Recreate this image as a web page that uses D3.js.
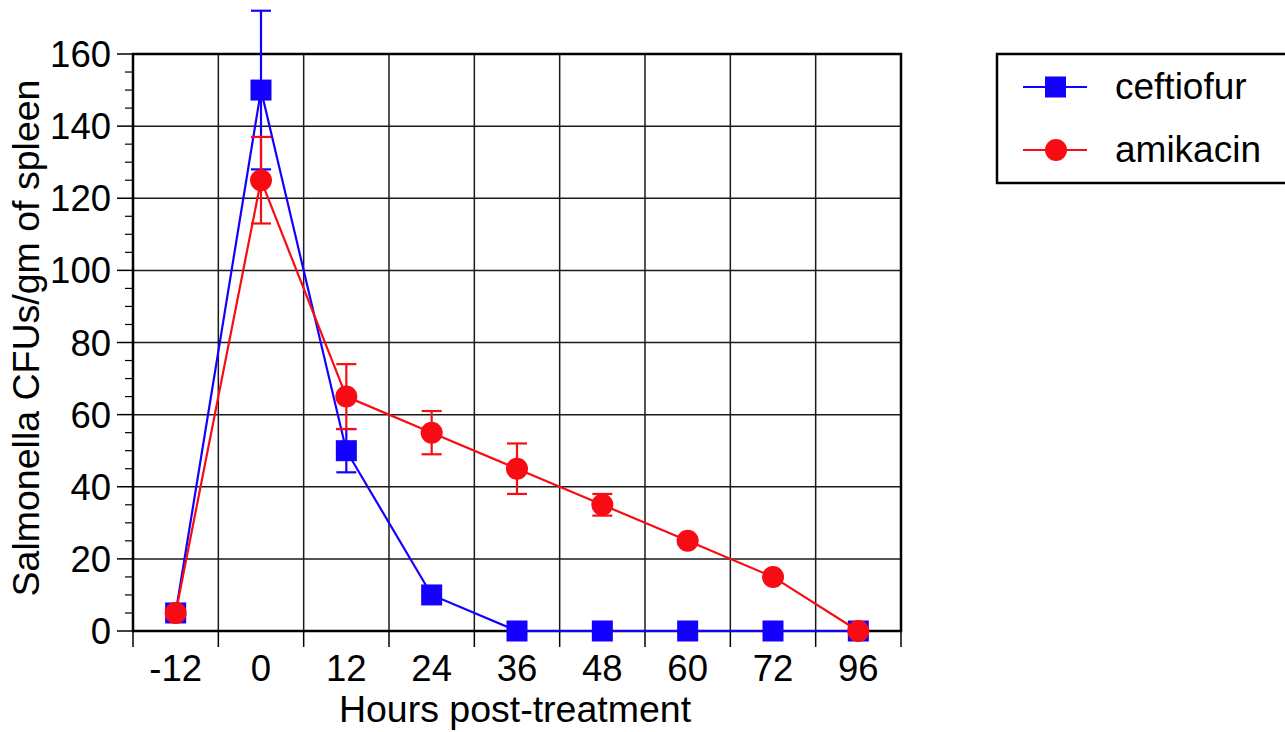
<!DOCTYPE html>
<html><head><meta charset="utf-8">
<script src="https://cdn.jsdelivr.net/npm/d3@7"></script>
<style>body{margin:0;background:#fff;} svg{display:block;} text{font-family:"Liberation Sans",Arial,Helvetica,sans-serif;fill:#000;}</style>
</head><body><svg id="c" width="1285" height="732"></svg>
<script>
const categories = ["-12","0","12","24","36","48","60","72","96"];
const ceftiofur = [5,150,50,10,0,0,0,0,0];
const ceftiofurErr = [0,22,6,0,0,0,0,0,0];
const amikacin = [5,125,65,55,45,35,25,15,0];
const amikacinErr = [0,12,9,6,7,3,1,0,0];
const yTicks = [0,20,40,60,80,100,120,140,160];
const seriesNames = ["ceftiofur","amikacin"];
const seriesColors = ["#1400ff","#f80c14"];

const svg = d3.select("#c");
const L=133,R=901,T=54,B=631;
const x = d3.scaleBand().domain(categories).range([L,R]).padding(0);
const y = d3.scaleLinear().domain([0,160]).range([B,T]);
const cx = d => x(d)+x.bandwidth()/2;

// gridlines
const g = svg.append("g");
const bounds = categories.map(c=>x(c)).concat([R]);
g.selectAll(".vg").data(bounds).enter().append("line")
 .attr("x1",d=>d).attr("x2",d=>d).attr("y1",T).attr("y2",B)
 .attr("stroke","#1a1a1a").attr("stroke-width",1.5);
g.selectAll(".hg").data(yTicks).enter().append("line")
 .attr("x1",L).attr("x2",R).attr("y1",d=>y(d)).attr("y2",d=>y(d))
 .attr("stroke","#1a1a1a").attr("stroke-width",1.5);
// x ticks below axis at boundaries
g.selectAll(".xt").data(bounds).enter().append("line")
 .attr("x1",d=>d).attr("x2",d=>d).attr("y1",B).attr("y2",B+16)
 .attr("stroke","#000").attr("stroke-width",1.5);
// y axis with minor ticks
const minor = d3.range(0,161,5).filter(v=>v%20!==0);
g.selectAll(".ym").data(minor).enter().append("line")
 .attr("x1",L-8).attr("x2",L).attr("y1",d=>y(d)).attr("y2",d=>y(d))
 .attr("stroke","#000").attr("stroke-width",1.2);
g.selectAll(".yM").data(yTicks).enter().append("line")
 .attr("x1",L-16).attr("x2",L).attr("y1",d=>y(d)).attr("y2",d=>y(d))
 .attr("stroke","#000").attr("stroke-width",1.5);
g.selectAll(".yl").data(yTicks).enter().append("text")
 .attr("x",L-22).attr("y",d=>y(d)+13).attr("text-anchor","end")
 .attr("font-size",36.5).text(d=>d);
g.selectAll(".xl").data(categories).enter().append("text")
 .attr("x",d=>cx(d)).attr("y",B+50).attr("text-anchor","middle")
 .attr("font-size",36.5).text(d=>d);
// frame
svg.append("rect").attr("x",L).attr("y",T).attr("width",R-L).attr("height",B-T)
 .attr("fill","none").attr("stroke","#000").attr("stroke-width",2.5);

// titles
svg.append("text").attr("x",515).attr("y",722).attr("text-anchor","middle")
 .attr("font-size",37.5).text("Hours post-treatment");
svg.append("text").attr("transform","translate(39,338) rotate(-90)").attr("text-anchor","middle")
 .attr("font-size",37.5).text("Salmonella CFUs/gm of spleen");

function drawSeries(vals, errs, color, shape){
  const sg = svg.append("g");
  const line = d3.line().x((d,i)=>cx(categories[i])).y(d=>y(d));
  sg.append("path").datum(vals).attr("d",line).attr("fill","none")
    .attr("stroke",color).attr("stroke-width",2.2);
  const idx = d3.range(vals.length).filter(i=>errs[i]>0);
  idx.forEach(i=>{
    const X=cx(categories[i]), y1=y(vals[i]+errs[i]), y2=y(vals[i]-errs[i]);
    sg.append("line").attr("x1",X).attr("x2",X).attr("y1",y1).attr("y2",y2).attr("stroke",color).attr("stroke-width",2.2);
    [y1,y2].forEach(yy=>sg.append("line").attr("x1",X-10).attr("x2",X+10).attr("y1",yy).attr("y2",yy).attr("stroke",color).attr("stroke-width",2.2));
  });
  vals.forEach((v,i)=>{
    const X=cx(categories[i]), Y=y(v);
    if(shape==="square") sg.append("rect").attr("x",X-10.5).attr("y",Y-10.5).attr("width",21).attr("height",21).attr("fill",color);
    else sg.append("circle").attr("cx",X).attr("cy",Y).attr("r",11).attr("fill",color);
  });
}
drawSeries(ceftiofur, ceftiofurErr, seriesColors[0], "square");
drawSeries(amikacin, amikacinErr, seriesColors[1], "circle");

// legend
const lg = svg.append("g");
lg.append("rect").attr("x",997).attr("y",54).attr("width",310).attr("height",129)
  .attr("fill","#fff").attr("stroke","#000").attr("stroke-width",2.5);
seriesNames.forEach((n,i)=>{
  const yy = 87 + i*63;
  lg.append("line").attr("x1",1023).attr("x2",1087).attr("y1",yy).attr("y2",yy).attr("stroke",seriesColors[i]).attr("stroke-width",2.2);
  if(i===0) lg.append("rect").attr("x",1045).attr("y",yy-10.5).attr("width",21).attr("height",21).attr("fill",seriesColors[i]);
  else lg.append("circle").attr("cx",1056).attr("cy",yy).attr("r",11).attr("fill",seriesColors[i]);
  lg.append("text").attr("x",1115).attr("y",yy+12).attr("font-size",37).text(n);
});
</script></body></html>
